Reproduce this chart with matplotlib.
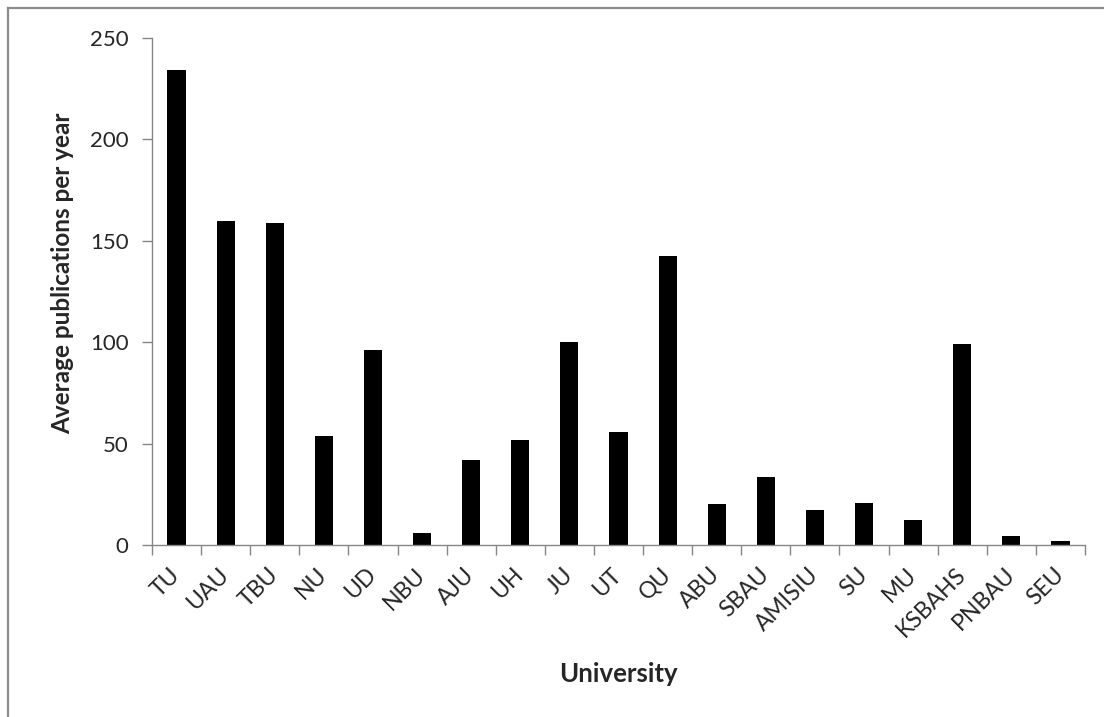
import numpy as np
import matplotlib
matplotlib.use('Agg')
from matplotlib import pyplot as plt
from matplotlib.lines import Line2D

universities = ['TU', 'UAU', 'TBU', 'NU', 'UD', 'NBU', 'AJU', 'UH', 'JU', 'UT',
                'QU', 'ABU', 'SBAU', 'AMISIU', 'SU', 'MU', 'KSBAHS', 'PNBAU', 'SEU']
avg_pubs = [234.2, 159.7, 158.9, 53.6, 96.1, 5.8, 41.8, 51.9, 100.3, 55.7,
            142.7, 20.4, 33.4, 17.1, 20.9, 12.1, 99.1, 4.6, 1.9]
yticks = [0, 50, 100, 150, 200, 250]

plt.rcParams['font.family'] = ['Lato', 'DejaVu Sans']
txt = '#262626'
axcol = '#868686'

W, H = 1104, 717
fig = plt.figure(figsize=(W / 100, H / 100), dpi=100)
ax = fig.add_axes([152 / W, 1 - 545 / H, (1085 - 152) / W, (545 - 38) / H])

x = np.arange(len(universities))
ax.bar(x, avg_pubs, width=0.37, color='black')

ax.set_xlim(-0.5, len(universities) - 0.5)
ax.set_ylim(0, 250)
ax.set_yticks(yticks)
ax.set_yticklabels([str(v) for v in yticks], fontsize=16, color=txt)
ax.set_xticks(x)
ax.set_xticklabels(universities, rotation=45, ha='right', va='center',
                   rotation_mode='anchor', fontsize=16.5, color=txt)
ax.set_xticks(np.arange(-0.5, len(universities)), minor=True)
ax.tick_params(axis='x', which='major', length=0, pad=19)
ax.tick_params(axis='x', which='minor', length=7, width=1, color=axcol, direction='out')
ax.tick_params(axis='y', length=7, width=1, color=axcol, direction='out', pad=10)

for s in ['top', 'right']:
    ax.spines[s].set_visible(False)
for s in ['left', 'bottom']:
    ax.spines[s].set_color(axcol)
    ax.spines[s].set_linewidth(1)

ax.set_ylabel('Average publications per year', fontsize=17.5, fontweight='bold',
              color=txt)
ax.yaxis.set_label_coords((74 - 152) / (1085 - 152), 1 - (273 - 38) / 507)
fig.text(618 / W, 1 - 674 / H, 'University', fontsize=18.5, fontweight='bold',
         color=txt, ha='center', va='center')

# outer frame (left and top only)
fig.add_artist(Line2D([8 / W, 8 / W], [0, 1 - 8 / H], transform=fig.transFigure,
                      color='#8c8c8c', lw=1.6))
fig.add_artist(Line2D([8 / W, 1], [1 - 8 / H, 1 - 8 / H], transform=fig.transFigure,
                      color='#8c8c8c', lw=1.6))

fig.savefig('out.png', dpi=100)
